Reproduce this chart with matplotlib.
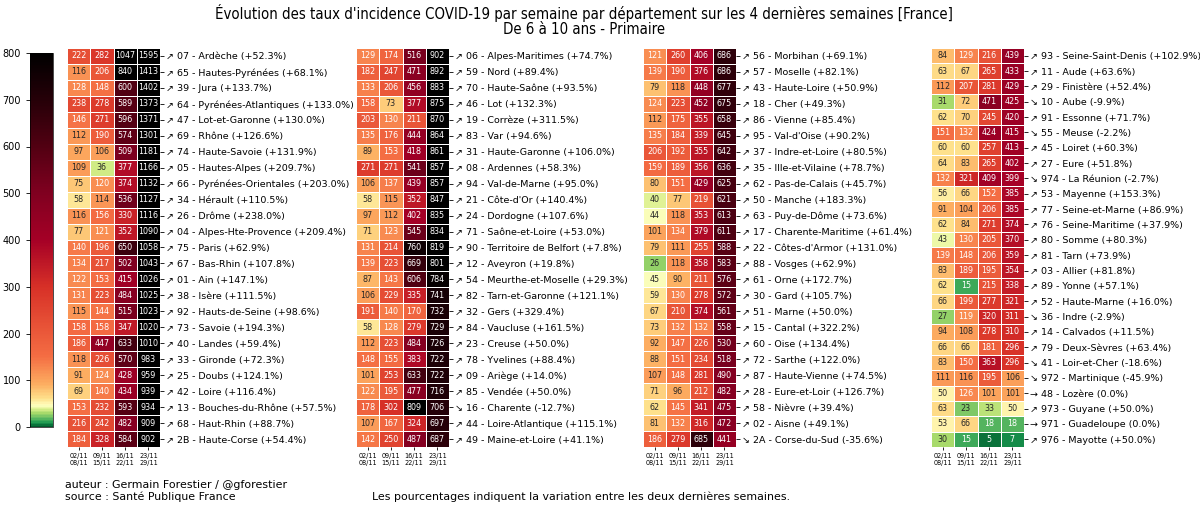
import numpy as np
import matplotlib
matplotlib.use("Agg")
import matplotlib.pyplot as plt
import seaborn as sns
from matplotlib.colors import LinearSegmentedColormap, Normalize
from matplotlib.cm import ScalarMappable

# Semaines (colonnes)
weeks = ["02/11\n08/11", "09/11\n15/11", "16/11\n22/11", "23/11\n29/11"]

# Panneau 1
vals1 = [[222, 282, 1047, 1595], [116, 206, 840, 1413], [128, 148, 600, 1402],
         [238, 278, 589, 1373], [146, 271, 596, 1371], [112, 190, 574, 1301],
         [97, 106, 509, 1181], [109, 36, 377, 1166], [75, 120, 374, 1132],
         [58, 114, 536, 1127], [116, 156, 330, 1116], [77, 121, 352, 1090],
         [140, 196, 650, 1058], [134, 217, 502, 1043], [122, 153, 415, 1026],
         [131, 223, 484, 1025], [115, 144, 515, 1023], [158, 158, 347, 1020],
         [186, 447, 633, 1010], [118, 226, 570, 983], [91, 124, 428, 959],
         [69, 140, 434, 939], [153, 232, 593, 934], [216, 242, 482, 909],
         [184, 328, 584, 902]]
labels1 = ["↗ 07 - Ardèche (+52.3%)", "↗ 65 - Hautes-Pyrénées (+68.1%)",
           "↗ 39 - Jura (+133.7%)", "↗ 64 - Pyrénées-Atlantiques (+133.0%)",
           "↗ 47 - Lot-et-Garonne (+130.0%)", "↗ 69 - Rhône (+126.6%)",
           "↗ 74 - Haute-Savoie (+131.9%)", "↗ 05 - Hautes-Alpes (+209.7%)",
           "↗ 66 - Pyrénées-Orientales (+203.0%)", "↗ 34 - Hérault (+110.5%)",
           "↗ 26 - Drôme (+238.0%)", "↗ 04 - Alpes-Hte-Provence (+209.4%)",
           "↗ 75 - Paris (+62.9%)", "↗ 67 - Bas-Rhin (+107.8%)",
           "↗ 01 - Ain (+147.1%)", "↗ 38 - Isère (+111.5%)",
           "↗ 92 - Hauts-de-Seine (+98.6%)", "↗ 73 - Savoie (+194.3%)",
           "↗ 40 - Landes (+59.4%)", "↗ 33 - Gironde (+72.3%)",
           "↗ 25 - Doubs (+124.1%)", "↗ 42 - Loire (+116.4%)",
           "↗ 13 - Bouches-du-Rhône (+57.5%)", "↗ 68 - Haut-Rhin (+88.7%)",
           "↗ 2B - Haute-Corse (+54.4%)"]

# Panneau 2
vals2 = [[129, 174, 516, 902], [182, 247, 471, 892], [133, 206, 456, 883],
         [158, 73, 377, 875], [203, 130, 211, 870], [135, 176, 444, 864],
         [89, 153, 418, 861], [271, 271, 541, 857], [106, 137, 439, 857],
         [58, 115, 352, 847], [97, 112, 402, 835], [71, 123, 545, 834],
         [131, 214, 760, 819], [139, 223, 669, 801], [87, 143, 606, 784],
         [106, 229, 335, 741], [191, 140, 170, 732], [58, 128, 279, 729],
         [112, 223, 484, 726], [148, 155, 383, 722], [101, 253, 633, 722],
         [122, 195, 477, 716], [178, 302, 809, 706], [107, 167, 324, 697],
         [142, 250, 487, 687]]
labels2 = ["↗ 06 - Alpes-Maritimes (+74.7%)", "↗ 59 - Nord (+89.4%)",
           "↗ 70 - Haute-Saône (+93.5%)", "↗ 46 - Lot (+132.3%)",
           "↗ 19 - Corrèze (+311.5%)", "↗ 83 - Var (+94.6%)",
           "↗ 31 - Haute-Garonne (+106.0%)", "↗ 08 - Ardennes (+58.3%)",
           "↗ 94 - Val-de-Marne (+95.0%)", "↗ 21 - Côte-d'Or (+140.4%)",
           "↗ 24 - Dordogne (+107.6%)", "↗ 71 - Saône-et-Loire (+53.0%)",
           "↗ 90 - Territoire de Belfort (+7.8%)", "↗ 12 - Aveyron (+19.8%)",
           "↗ 54 - Meurthe-et-Moselle (+29.3%)", "↗ 82 - Tarn-et-Garonne (+121.1%)",
           "↗ 32 - Gers (+329.4%)", "↗ 84 - Vaucluse (+161.5%)",
           "↗ 23 - Creuse (+50.0%)", "↗ 78 - Yvelines (+88.4%)",
           "↗ 09 - Ariège (+14.0%)", "↗ 85 - Vendée (+50.0%)",
           "↘ 16 - Charente (-12.7%)", "↗ 44 - Loire-Atlantique (+115.1%)",
           "↗ 49 - Maine-et-Loire (+41.1%)"]

# Panneau 3
vals3 = [[121, 260, 406, 686], [139, 190, 376, 686], [79, 118, 448, 677],
         [124, 223, 452, 675], [112, 175, 355, 658], [135, 184, 339, 645],
         [206, 192, 355, 642], [159, 189, 356, 636], [80, 151, 429, 625],
         [40, 77, 219, 621], [44, 118, 353, 613], [101, 134, 379, 611],
         [79, 111, 255, 588], [26, 118, 358, 583], [45, 90, 211, 576],
         [59, 130, 278, 572], [67, 210, 374, 561], [73, 132, 132, 558],
         [92, 147, 226, 530], [88, 151, 234, 518], [107, 148, 281, 490],
         [71, 96, 212, 482], [62, 145, 341, 475], [81, 132, 316, 472],
         [186, 279, 685, 441]]
labels3 = ["↗ 56 - Morbihan (+69.1%)", "↗ 57 - Moselle (+82.1%)",
           "↗ 43 - Haute-Loire (+50.9%)", "↗ 18 - Cher (+49.3%)",
           "↗ 86 - Vienne (+85.4%)", "↗ 95 - Val-d'Oise (+90.2%)",
           "↗ 37 - Indre-et-Loire (+80.5%)", "↗ 35 - Ille-et-Vilaine (+78.7%)",
           "↗ 62 - Pas-de-Calais (+45.7%)", "↗ 50 - Manche (+183.3%)",
           "↗ 63 - Puy-de-Dôme (+73.6%)", "↗ 17 - Charente-Maritime (+61.4%)",
           "↗ 22 - Côtes-d'Armor (+131.0%)", "↗ 88 - Vosges (+62.9%)",
           "↗ 61 - Orne (+172.7%)", "↗ 30 - Gard (+105.7%)",
           "↗ 51 - Marne (+50.0%)", "↗ 15 - Cantal (+322.2%)",
           "↗ 60 - Oise (+134.4%)", "↗ 72 - Sarthe (+122.0%)",
           "↗ 87 - Haute-Vienne (+74.5%)", "↗ 28 - Eure-et-Loir (+126.7%)",
           "↗ 58 - Nièvre (+39.4%)", "↗ 02 - Aisne (+49.1%)",
           "↘ 2A - Corse-du-Sud (-35.6%)"]

# Panneau 4
vals4 = [[84, 129, 216, 439], [63, 67, 265, 433], [112, 207, 281, 429],
         [31, 72, 471, 425], [62, 70, 245, 420], [151, 132, 424, 415],
         [60, 60, 257, 413], [64, 83, 265, 402], [132, 321, 409, 399],
         [56, 66, 152, 385], [91, 104, 206, 385], [62, 84, 271, 374],
         [43, 130, 205, 370], [139, 148, 206, 359], [83, 189, 195, 354],
         [62, 15, 215, 338], [66, 199, 277, 321], [27, 119, 320, 311],
         [94, 108, 278, 310], [66, 66, 181, 296], [83, 150, 363, 296],
         [111, 116, 195, 106], [50, 126, 101, 101], [63, 23, 33, 50],
         [53, 66, 18, 18], [30, 15, 5, 7]]
labels4 = ["↗ 93 - Seine-Saint-Denis (+102.9%)", "↗ 11 - Aude (+63.6%)",
           "↗ 29 - Finistère (+52.4%)", "↘ 10 - Aube (-9.9%)",
           "↗ 91 - Essonne (+71.7%)", "↘ 55 - Meuse (-2.2%)",
           "↗ 45 - Loiret (+60.3%)", "↗ 27 - Eure (+51.8%)",
           "↘ 974 - La Réunion (-2.7%)", "↗ 53 - Mayenne (+153.3%)",
           "↗ 77 - Seine-et-Marne (+86.9%)", "↗ 76 - Seine-Maritime (+37.9%)",
           "↗ 80 - Somme (+80.3%)", "↗ 81 - Tarn (+73.9%)",
           "↗ 03 - Allier (+81.8%)", "↗ 89 - Yonne (+57.1%)",
           "↗ 52 - Haute-Marne (+16.0%)", "↘ 36 - Indre (-2.9%)",
           "↗ 14 - Calvados (+11.5%)", "↗ 79 - Deux-Sèvres (+63.4%)",
           "↘ 41 - Loir-et-Cher (-18.6%)", "↘ 972 - Martinique (-45.9%)",
           "→ 48 - Lozère (0.0%)", "↗ 973 - Guyane (+50.0%)",
           "→ 971 - Guadeloupe (0.0%)", "↗ 976 - Mayotte (+50.0%)"]

W, H = 1200, 508
fig = plt.figure(figsize=(W / 100, H / 100), dpi=100)

# palette vert -> jaune -> orange -> rouge -> noir
stops = [(0, "#005a2b"), (8, "#1a9850"), (18, "#66bd63"), (28, "#a6d96a"),
         (36, "#d9ef8b"), (45, "#ffffbf"), (60, "#fee08b"), (90, "#fdae61"),
         (150, "#f46d43"), (300, "#d73027"), (400, "#a50026"), (500, "#800020"),
         (600, "#520012"), (700, "#260008"), (800, "#000000")]
cmap = LinearSegmentedColormap.from_list("incid", [(v / 800, c) for v, c in stops])

lefts = [67, 356, 643, 931]
for left, vals, labels in zip(lefts, [vals1, vals2, vals3, vals4],
                              [labels1, labels2, labels3, labels4]):
    ax = fig.add_axes([left / W, 61 / H, 93 / W, 399 / H])
    sns.heatmap(np.array(vals), ax=ax, cmap=cmap, vmin=0, vmax=800,
                annot=True, fmt="d", annot_kws={"fontsize": 5.8},
                linewidths=0.6, linecolor="white", cbar=False,
                xticklabels=weeks, yticklabels=labels)
    ax.yaxis.tick_right()
    ax.tick_params(axis="y", labelsize=6.8, length=3, width=0.6, rotation=0, pad=1.5)
    ax.tick_params(axis="x", labelsize=4.7, length=2, width=0.6, rotation=0, pad=2)

# barre de couleur
cax = fig.add_axes([30 / W, 81 / H, 23 / W, 374 / H])
cb = fig.colorbar(ScalarMappable(Normalize(0, 800), cmap), cax=cax)
cb.set_ticks(range(0, 801, 100))
cax.yaxis.set_ticks_position("left")
cax.tick_params(labelsize=7, length=3, width=0.6)
cb.outline.set_linewidth(0.5)

fig.text(0.487, 1 - 4 / H,
         "Évolution des taux d'incidence COVID-19 par semaine par département sur les 4 dernières semaines [France]\n"
         "De 6 à 10 ans - Primaire",
         ha="center", va="top", fontsize=10.7, fontstretch="condensed", linespacing=1.0)

fig.text(65 / W, 1 - 485 / H, "auteur : Germain Forestier / @gforestier",
         ha="left", va="center", fontsize=7.9)
fig.text(65 / W, 1 - 497 / H, "source : Santé Publique France",
         ha="left", va="center", fontsize=7.9)
fig.text(372 / W, 1 - 497 / H,
         "Les pourcentages indiquent la variation entre les deux dernières semaines.",
         ha="left", va="center", fontsize=7.9)

plt.savefig("out.png", dpi=100)
